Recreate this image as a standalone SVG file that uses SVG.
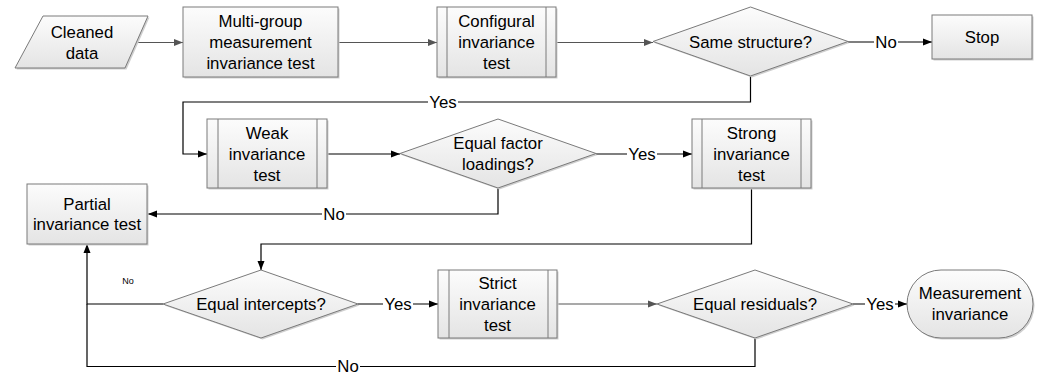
<svg xmlns="http://www.w3.org/2000/svg" width="1040" height="374" viewBox="0 0 1040 374">
<style>
text{font-family:"Liberation Sans",Arial,sans-serif;font-size:16.8px;fill:#000;text-anchor:middle}
.shape{fill:url(#g);stroke:#7a7a7a;stroke-width:1}
.shadow{fill:#cfcfcf;stroke:none}
.inner{stroke:#7a7a7a;stroke-width:1;fill:none}
.c{fill:none;stroke:#000;stroke-width:1.2}
.cg{fill:none;stroke:#555;stroke-width:1.2}
.lbg{fill:#fff;stroke:none}
.small{font-size:9px}
</style>
<defs>
<linearGradient id="g" x1="0" y1="0" x2="0" y2="1">
<stop offset="0" stop-color="#fcfcfc"/>
<stop offset="1" stop-color="#e4e4e4"/>
</linearGradient>
<marker id="ab" markerUnits="userSpaceOnUse" markerWidth="10" markerHeight="8" refX="9" refY="4" orient="auto">
<path d="M0,0.5 L9,4 L0,7.5 Z" fill="#000"/>
</marker>
<marker id="ag" markerUnits="userSpaceOnUse" markerWidth="10" markerHeight="8" refX="9" refY="4" orient="auto">
<path d="M0,0.5 L9,4 L0,7.5 Z" fill="#555"/>
</marker>
</defs>

<g id="connectors">
<path class="cg" d="M137,42.5 H183" marker-end="url(#ag)"/>
<path class="cg" d="M338,42.5 H437" marker-end="url(#ag)"/>
<path class="cg" d="M556,42.5 H653" marker-end="url(#ag)"/>
<path class="c" d="M848,42 H932" marker-end="url(#ab)"/>
<path class="c" d="M750.5,76 V102 H183 V154 H207" marker-end="url(#ab)"/>
<path class="c" d="M327,154 H400" marker-end="url(#ab)"/>
<path class="c" d="M596,154 H692" marker-end="url(#ab)"/>
<path class="c" d="M498,188 V214 H148" marker-end="url(#ab)"/>
<path class="c" d="M751.5,188 V244 H261 V270" marker-end="url(#ab)"/>
<path class="c" d="M358,304 H438" marker-end="url(#ab)"/>
<path class="c" d="M163,304 H87 V244" marker-end="url(#ab)"/>
<path class="c" d="M755,338 V366.5 H87 V304"/>
<path class="cg" d="M557,304 H657" marker-end="url(#ag)"/>
<path class="c" d="M853,304 H907" marker-end="url(#ab)"/>
<rect class="lbg" x="874" y="34" width="24" height="16"/>
<text x="886" y="48">No</text>
<rect class="lbg" x="428" y="94" width="30" height="16"/>
<text x="443" y="108">Yes</text>
<rect class="lbg" x="627" y="146" width="30" height="16"/>
<text x="642" y="160">Yes</text>
<rect class="lbg" x="322" y="206" width="24" height="16"/>
<text x="334" y="220">No</text>
<rect class="lbg" x="383" y="296" width="30" height="16"/>
<text x="398" y="310">Yes</text>
<rect class="lbg" x="336" y="359" width="24" height="15"/>
<text x="348" y="372">No</text>
<rect class="lbg" x="865" y="296" width="30" height="16"/>
<text x="880" y="310">Yes</text>
<text class="small" x="128" y="284">No</text>
</g>

<g id="cleaned-data">
<polygon class="shadow" points="44.5,17.5 149.5,17.5 126.5,69.5 16.5,69.5"/>
<polygon class="shape" points="43,16 148,16 125,68 15,68"/>
<text x="82" y="38">Cleaned</text>
<text x="82" y="59">data</text>
</g>

<g id="multi-group">
<rect class="shadow" x="184.5" y="8.5" width="155" height="70"/>
<rect class="shape" x="183" y="7" width="155" height="70"/>
<text x="260.5" y="27">Multi-group</text>
<text x="260.5" y="48">measurement</text>
<text x="260.5" y="69">invariance test</text>
</g>

<g id="configural">
<rect class="shadow" x="438.5" y="8.5" width="119" height="70"/>
<rect class="shape" x="437" y="7" width="119" height="70"/>
<path class="inner" d="M447,7 V77 M546,7 V77"/>
<text x="496.5" y="27">Configural</text>
<text x="496.5" y="48">invariance</text>
<text x="496.5" y="69">test</text>
</g>

<g id="same-structure">
<polygon class="shadow" points="752,8.5 849.5,43 752,77.5 654.5,43"/>
<polygon class="shape" points="750.5,7 848,41.5 750.5,76 653,41.5"/>
<text x="750.5" y="48">Same structure?</text>
</g>

<g id="stop">
<rect class="shadow" x="933.5" y="16.5" width="100" height="44"/>
<rect class="shape" x="932" y="15" width="100" height="44"/>
<text x="982" y="43">Stop</text>
</g>

<g id="weak">
<rect class="shadow" x="208.5" y="120.5" width="120" height="69"/>
<rect class="shape" x="207" y="119" width="120" height="69"/>
<path class="inner" d="M218,119 V188 M317,119 V188"/>
<text x="267" y="139">Weak</text>
<text x="267" y="160">invariance</text>
<text x="267" y="181">test</text>
</g>

<g id="equal-factor-loadings">
<polygon class="shadow" points="499.5,120.5 597.5,155 499.5,189.5 401.5,155"/>
<polygon class="shape" points="498,119 596,153.5 498,188 400,153.5"/>
<text x="498" y="149">Equal factor</text>
<text x="498" y="170">loadings?</text>
</g>

<g id="strong">
<rect class="shadow" x="693.5" y="120.5" width="119" height="69"/>
<rect class="shape" x="692" y="119" width="119" height="69"/>
<path class="inner" d="M702,119 V188 M801,119 V188"/>
<text x="751.5" y="139">Strong</text>
<text x="751.5" y="160">invariance</text>
<text x="751.5" y="181">test</text>
</g>

<g id="partial">
<rect class="shadow" x="28.5" y="185.5" width="120" height="60"/>
<rect class="shape" x="27" y="184" width="120" height="60"/>
<text x="87" y="210">Partial</text>
<text x="87" y="230">invariance test</text>
</g>

<g id="equal-intercepts">
<polygon class="shadow" points="262.5,271.5 359.5,305.5 262.5,339.5 164.5,305.5"/>
<polygon class="shape" points="261,270 358,304 261,338 163,304"/>
<text x="261" y="310">Equal intercepts?</text>
</g>

<g id="strict">
<rect class="shadow" x="439.5" y="271.5" width="119" height="68"/>
<rect class="shape" x="438" y="270" width="119" height="68"/>
<path class="inner" d="M449,270 V338 M548,270 V338"/>
<text x="497.5" y="289">Strict</text>
<text x="497.5" y="310">invariance</text>
<text x="497.5" y="331">test</text>
</g>

<g id="equal-residuals">
<polygon class="shadow" points="756.5,271.5 854.5,305.5 756.5,339.5 658.5,305.5"/>
<polygon class="shape" points="755,270 853,304 755,338 657,304"/>
<text x="755" y="310">Equal residuals?</text>
</g>

<g id="measurement-invariance">
<rect class="shadow" x="908.5" y="271.5" width="126" height="68" rx="34" ry="34"/>
<rect class="shape" x="907" y="270" width="126" height="68" rx="34" ry="34"/>
<text x="970" y="298.5">Measurement</text>
<text x="970" y="319.5">invariance</text>
</g>
</svg>
